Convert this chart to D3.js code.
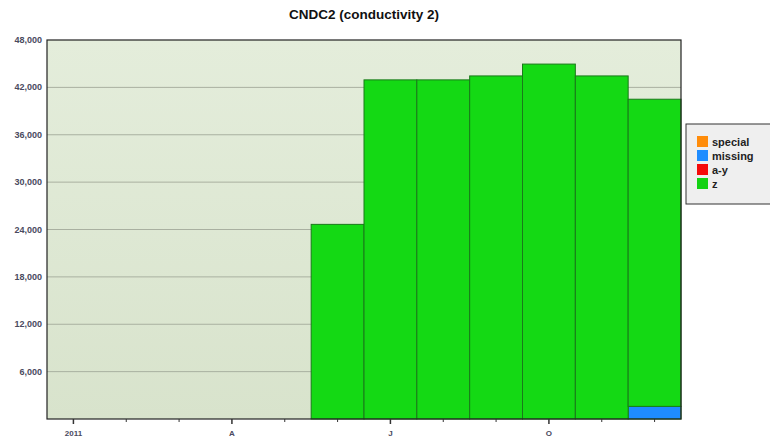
<!DOCTYPE html>
<html>
<head>
<meta charset="utf-8">
<script src="https://cdn.jsdelivr.net/npm/d3@7"></script>
<style>
	body { margin: 0; background: #fff; }
	text { font-family: "Liberation Sans", Arial, sans-serif; }
</style>
</head>
<body>
<div id="chart"></div>
<script>
	// data
	const months = ['Jan', 'Feb', 'Mar', 'Apr', 'May', 'Jun', 'Jul', 'Aug', 'Sep', 'Oct', 'Nov', 'Dec'];
	const monthLabels = { Jan: '2011', Apr: 'A', Jul: 'J', Oct: 'O' };
	const barMonths = ['Jun', 'Jul', 'Aug', 'Sep', 'Oct', 'Nov', 'Dec'];
	const missingValues = [0, 0, 0, 0, 0, 0, 1600];
	const zValues = [24650, 42950, 42950, 43450, 44950, 43450, 38900];
	const yTicks = [6000, 12000, 18000, 24000, 30000, 36000, 42000, 48000];
	const legendItems = ['special', 'missing', 'a-y', 'z'];
	const legendColors = ['#ff8c0a', '#1e8cff', '#f50a0a', '#14d214'];

	const width = 770;
	const height = 439;
	const margin = { top: 40, right: 89, bottom: 20, left: 47 };
	const plotW = width - margin.left - margin.right;
	const plotH = height - margin.top - margin.bottom;

	const svg = d3.select('#chart').append('svg')
		.attr('width', width)
		.attr('height', height);

	const defs = svg.append('defs');
	const grad = defs.append('linearGradient')
		.attr('id', 'bg')
		.attr('x1', 0).attr('y1', 0).attr('x2', 0).attr('y2', 1);
	grad.append('stop').attr('offset', '0%').attr('stop-color', '#e4eddb');
	grad.append('stop').attr('offset', '100%').attr('stop-color', '#d8e3cc');

	svg.append('text')
		.attr('x', 364)
		.attr('y', 19)
		.style('font-size', '13.5px')
		.style('font-weight', 700)
		.style('text-anchor', 'middle')
		.style('fill', '#111')
		.text('CNDC2 (conductivity 2)');

	const chart = svg.append('g')
		.attr('transform', `translate(${margin.left}, ${margin.top})`);

	const x = d3.scaleBand()
		.domain(months)
		.range([0, plotW])
		.padding(0);
	const y = d3.scaleLinear()
		.domain([0, 48000])
		.range([plotH, 0]);

	chart.append('rect')
		.attr('width', plotW)
		.attr('height', plotH)
		.style('fill', 'url(#bg)');

	// gridlines
	chart.append('g')
		.selectAll('line')
		.data(yTicks.slice(0, -1))
		.enter()
		.append('line')
		.attr('x1', 0)
		.attr('x2', plotW)
		.attr('y1', d => y(d))
		.attr('y2', d => y(d))
		.style('stroke', '#a9b0a0')
		.style('stroke-width', 1);

	// stacked bars
	const rows = barMonths.map((m, i) => ({ month: m, missing: missingValues[i], z: zValues[i] }));
	const stack = d3.stack().keys(['missing', 'z'])(rows);
	const barColors = { missing: '#1e8cff', z: '#14d914' };

	stack.forEach(layer => {
		chart.append('g')
			.selectAll('rect')
			.data(layer.filter(d => d[1] > d[0]))
			.enter()
			.append('rect')
			.attr('x', d => x(d.data.month))
			.attr('width', x.bandwidth())
			.attr('y', d => y(d[1]))
			.attr('height', d => y(d[0]) - y(d[1]))
			.style('fill', barColors[layer.key])
			.style('stroke', '#1a7a1a')
			.style('stroke-width', 1);
	});

	// plot border
	chart.append('rect')
		.attr('width', plotW)
		.attr('height', plotH)
		.style('fill', 'none')
		.style('stroke', '#222')
		.style('stroke-width', 1.2);

	// y tick labels
	chart.append('g')
		.selectAll('text')
		.data(yTicks)
		.enter()
		.append('text')
		.attr('x', -5)
		.attr('y', d => y(d) + 3)
		.style('font-size', '9px')
		.style('font-weight', 700)
		.style('text-anchor', 'end')
		.style('fill', '#4a4a60')
		.text(d3.format(','));

	// x axis
	const xAxis = chart.append('g')
		.attr('transform', `translate(0, ${plotH})`);
	xAxis.selectAll('line')
		.data(months)
		.enter()
		.append('line')
		.attr('x1', d => x(d) + x.bandwidth() / 2)
		.attr('x2', d => x(d) + x.bandwidth() / 2)
		.attr('y1', 0)
		.attr('y2', d => monthLabels[d] ? 5 : 3)
		.style('stroke', '#333')
		.style('stroke-width', d => monthLabels[d] ? 1.5 : 1);
	xAxis.selectAll('text')
		.data(months.filter(m => monthLabels[m]))
		.enter()
		.append('text')
		.attr('x', d => x(d) + x.bandwidth() / 2)
		.attr('y', 17)
		.style('font-size', '8px')
		.style('font-weight', 700)
		.style('text-anchor', 'middle')
		.style('fill', '#4a4a60')
		.text(d => monthLabels[d]);

	// legend
	const legendG = svg.append('g')
		.attr('transform', 'translate(686, 124)');
	legendG.append('rect')
		.attr('width', 90)
		.attr('height', 80)
		.style('fill', '#efefef')
		.style('stroke', '#333')
		.style('stroke-width', 1);
	const legend = legendG.selectAll('g.item')
		.data(legendItems)
		.enter()
		.append('g')
		.attr('class', 'item')
		.attr('transform', (d, i) => `translate(11, ${12 + i * 14})`);
	legend.append('rect')
		.attr('width', 11)
		.attr('height', 11)
		.style('fill', (d, i) => legendColors[i]);
	legend.append('text')
		.attr('x', 15)
		.attr('y', 10)
		.style('font-size', '11px')
		.style('font-weight', 700)
		.style('text-anchor', 'start')
		.style('fill', '#222')
		.text(d => d);
</script>
</body>
</html>
